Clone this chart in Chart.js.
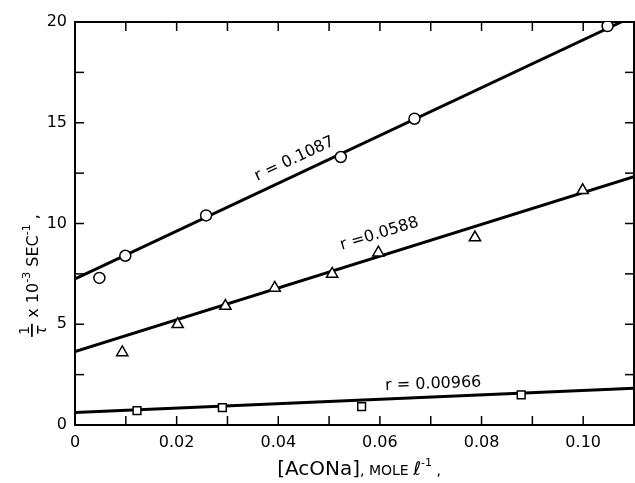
<!DOCTYPE html>
<html>
<head>
<meta charset="utf-8">
<script src="https://cdn.jsdelivr.net/npm/chart.js@4"></script>
<style>
html,body{margin:0;padding:0;background:#fff;}
canvas{display:block;}
</style>
</head>
<body>
<canvas id="c" width="635" height="483"></canvas>
<script>
// ---- data ----
const circleX = [0.0048, 0.0099, 0.0258, 0.0523, 0.0668, 0.1048];
const circleY = [7.3, 8.4, 10.4, 13.3, 15.2, 19.8];
const triX = [0.0093, 0.0202, 0.0296, 0.0393, 0.0506, 0.0597, 0.0787, 0.0999];
const triY = [3.6, 5.0, 5.9, 6.8, 7.5, 8.55, 9.3, 11.65];
const sqX = [0.0122, 0.0290, 0.0564, 0.0878];
const sqY = [0.71, 0.86, 0.91, 1.49];
const fitCircleX = [0, 0.1075];
const fitCircleY = [7.25, 20];
const fitTriX = [0, 0.11];
const fitTriY = [3.64, 12.32];
const fitSqX = [0, 0.11];
const fitSqY = [0.62, 1.82];
const xTickLabels = ['0', '0.02', '0.04', '0.06', '0.08', '0.10'];
const yTickLabels = ['0', '5', '10', '15', '20'];
const lineLabels = ['r = 0.1087', 'r =0.0588', 'r = 0.00966'];
const lineLabelX = [0.0432, 0.0599, 0.0705];
const lineLabelY = [13.2, 9.48, 2.03];
const lineLabelAngle = [-25, -17, -2];

const pts = (xs, ys) => xs.map((x, i) => ({x: x, y: ys[i]}));
const FONT = "'DejaVu Sans', sans-serif";
Chart.defaults.font.family = FONT;
Chart.defaults.color = '#000';

const markerBase = {showLine: false, backgroundColor: '#fff', borderColor: '#000', borderWidth: 1.5, order: 0};
const lineBase = {showLine: true, pointRadius: 0, borderColor: '#000', borderWidth: 3, order: 1, fill: false};

const zeroPadH = s => { s.paddingLeft = 0; s.paddingRight = 0; if (s._margins) { s._margins.left = 0; s._margins.right = 0; } };
const zeroPadV = s => { s.paddingTop = 0; s.paddingBottom = 0; if (s._margins) { s._margins.top = 0; s._margins.bottom = 0; } };

const inwardTicks = {
  id: 'inwardTicks',
  afterDraw(chart) {
    const ctx = chart.ctx;
    const a = chart.chartArea;
    ctx.save();
    ctx.strokeStyle = '#000';
    ctx.lineWidth = 1.5;
    const L = 9;
    const draw = (id, fn) => {
      const s = chart.scales[id];
      s.ticks.forEach(t => {
        const p = s.getPixelForValue(t.value);
        ctx.beginPath(); fn(p); ctx.stroke();
      });
    };
    draw('x', p => { ctx.moveTo(p, a.bottom); ctx.lineTo(p, a.bottom - L); });
    draw('x2', p => { ctx.moveTo(p, a.top); ctx.lineTo(p, a.top + L); });
    draw('y', p => { ctx.moveTo(a.left, p); ctx.lineTo(a.left + L, p); });
    draw('y2', p => { ctx.moveTo(a.right, p); ctx.lineTo(a.right - L, p); });
    ctx.restore();
  }
};

const texts = {
  id: 'texts',
  afterDraw(chart) {
    const ctx = chart.ctx;
    const a = chart.chartArea;
    const xs = chart.scales.x, ys = chart.scales.y;
    ctx.save();
    ctx.fillStyle = '#000';
    // labels along the fitted lines
    ctx.font = '16px ' + FONT;
    ctx.textAlign = 'center';
    ctx.textBaseline = 'middle';
    lineLabels.forEach((t, i) => {
      ctx.save();
      ctx.translate(xs.getPixelForValue(lineLabelX[i]), ys.getPixelForValue(lineLabelY[i]));
      ctx.rotate(lineLabelAngle[i] * Math.PI / 180);
      ctx.fillText(t, 0, 0);
      ctx.restore();
    });
    // x axis title
    const parts = [
      {t: '[AcONa]', f: '20px ' + FONT, dy: 0},
      {t: ', MOLE ', f: '14px ' + FONT, dy: 0},
      {t: 'ℓ', f: '19px ' + FONT, dy: 0},
      {t: '-1', f: '11px ' + FONT, dy: -9},
      {t: ' ,', f: '14px ' + FONT, dy: 0}
    ];
    ctx.textAlign = 'left';
    ctx.textBaseline = 'alphabetic';
    let w = 0;
    parts.forEach(p => { ctx.font = p.f; p.w = ctx.measureText(p.t).width; w += p.w; });
    let x = 359 - w / 2;
    const by = 475;
    parts.forEach(p => { ctx.font = p.f; ctx.fillText(p.t, x, by + p.dy); x += p.w; });
    // y axis title (rotated)
    ctx.save();
    ctx.translate(32, 276);
    ctx.rotate(-Math.PI / 2);
    const yparts = [
      {t: ' x 10', f: '16px ' + FONT, dy: 0},
      {t: '-3', f: '11px ' + FONT, dy: -8},
      {t: ' SEC', f: '16px ' + FONT, dy: 0},
      {t: '-1', f: '11px ' + FONT, dy: -8},
      {t: ' ,', f: '16px ' + FONT, dy: 0}
    ];
    const fracW = 15;
    let tw = fracW;
    yparts.forEach(p => { ctx.font = p.f; p.w = ctx.measureText(p.t).width; tw += p.w; });
    let yx = -tw / 2;
    ctx.textAlign = 'center';
    ctx.font = '14px ' + FONT;
    ctx.fillText('1', yx + fracW / 2, -3);
    ctx.fillRect(yx + 1, -1, fracW - 2, 1.8);
    ctx.font = 'italic 16px ' + FONT;
    ctx.fillText('τ', yx + fracW / 2, 14);
    ctx.textAlign = 'left';
    yx += fracW;
    yparts.forEach(p => { ctx.font = p.f; ctx.fillText(p.t, yx, 6 + p.dy); yx += p.w; });
    ctx.restore();
    ctx.restore();
  }
};

new Chart(document.getElementById('c'), {
  type: 'scatter',
  data: {
    datasets: [
      Object.assign({data: pts(circleX, circleY), pointStyle: 'circle', pointRadius: 5.5}, markerBase),
      Object.assign({data: pts(triX, triY), pointStyle: 'triangle', pointRadius: 6.5}, markerBase),
      Object.assign({data: pts(sqX, sqY), pointStyle: 'rect', pointRadius: 5.5}, markerBase),
      Object.assign({data: pts(fitCircleX, fitCircleY)}, lineBase),
      Object.assign({data: pts(fitTriX, fitTriY)}, lineBase),
      Object.assign({data: pts(fitSqX, fitSqY)}, lineBase)
    ]
  },
  options: {
    responsive: false,
    animation: false,
    devicePixelRatio: 1,
    layout: {padding: 0, autoPadding: false},
    plugins: {legend: {display: false}, tooltip: {enabled: false}},
    scales: {
      x: {
        type: 'linear', position: 'bottom', min: 0, max: 0.11,
        grid: {display: false, drawTicks: false},
        border: {display: true, color: '#000', width: 2},
        ticks: {
          stepSize: 0.01, autoSkip: false, maxRotation: 0, padding: 8,
          font: {size: 16},
          callback: v => { const i = Math.round(v * 100); return (i % 2 === 0 && i / 2 < xTickLabels.length) ? xTickLabels[i / 2] : ''; }
        },
        afterFit: s => { s.height = 58; zeroPadH(s); }
      },
      x2: {
        type: 'linear', position: 'top', min: 0, max: 0.11,
        grid: {display: false, drawTicks: false},
        border: {display: true, color: '#000', width: 2},
        ticks: {display: false, stepSize: 0.01, autoSkip: false},
        afterFit: s => { s.height = 22; zeroPadH(s); }
      },
      y: {
        type: 'linear', position: 'left', min: 0, max: 20,
        grid: {display: false, drawTicks: false},
        border: {display: true, color: '#000', width: 2},
        ticks: {
          stepSize: 2.5, autoSkip: false, padding: 8,
          font: {size: 16},
          callback: v => { const k = Math.round(v / 2.5); return k % 2 === 0 ? yTickLabels[k / 2] : ''; }
        },
        afterFit: s => { s.width = 75; zeroPadV(s); }
      },
      y2: {
        type: 'linear', position: 'right', min: 0, max: 20,
        grid: {display: false, drawTicks: false},
        border: {display: true, color: '#000', width: 2},
        ticks: {display: false, stepSize: 2.5, autoSkip: false},
        afterFit: s => { s.width = 1; zeroPadV(s); }
      }
    }
  },
  plugins: [inwardTicks, texts]
});
</script>
</body>
</html>
